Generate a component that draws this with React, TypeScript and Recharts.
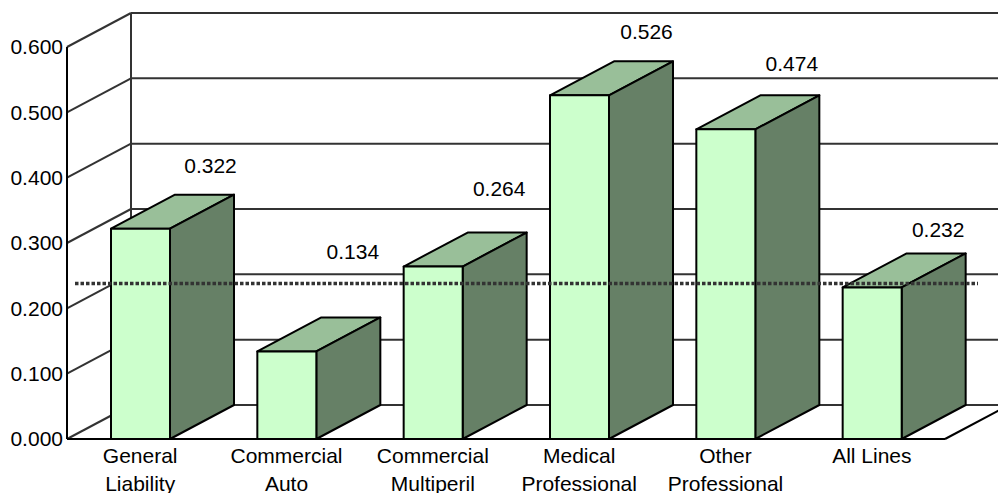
import { BarChart, Bar, XAxis, YAxis, CartesianGrid, ReferenceLine, LabelList } from "recharts";

const categories = [
  "General\nLiability",
  "Commercial\nAuto",
  "Commercial\nMultiperil",
  "Medical\nProfessional",
  "Other\nProfessional",
  "All Lines",
];
const values = [0.322, 0.134, 0.264, 0.526, 0.474, 0.232];
const yTicks = [0, 0.1, 0.2, 0.3, 0.4, 0.5, 0.6];
const allLinesAverage = 0.232;

const data = categories.map((name, i) => ({ name, value: values[i] }));

// depth of the fake 3d box
const DX = 64;
const DY = 34;
const PLOT_TOP = 47;
const PLOT_H = 392;
const FONT = "'Liberation Sans', Arial, sans-serif";
const FONT_SIZE = 21;
const WALL = "#333333";

// the data labels float at different spots in the original
const labelLift = [63, 100, 78, 64, 66, 58];
const labelShift = [70, 66, 66, 67, 66, 66];

function Box3D({ x, y, width, height }: any) {
  const r = x + width;
  const b = y + height;
  return (
    <g stroke="#000" strokeWidth={2} strokeLinejoin="round">
      <path d={`M${x},${y}L${x + DX},${y - DY}L${r + DX},${y - DY}L${r},${y}Z`} fill="#99BF99" />
      <path d={`M${r},${y}L${r + DX},${y - DY}L${r + DX},${b - DY}L${r},${b}Z`} fill="#668066" />
      <rect x={x} y={y} width={width} height={height} fill="#CCFFCC" />
    </g>
  );
}

function WallLine({ x1, y1, x2 }: any) {
  const isFloor = y1 >= PLOT_TOP + PLOT_H - 1;
  return (
    <g stroke={WALL} strokeWidth={2} fill="none">
      <line x1={x1} y1={y1} x2={x1 + DX} y2={y1 - DY} />
      <line x1={x1 + DX} y1={y1 - DY} x2={x2 + DX} y2={y1 - DY} />
      {isFloor && <line x1={x2} y1={y1} x2={x2 + DX} y2={y1 - DY} stroke="#000" />}
      {y1 <= PLOT_TOP + 1 && <line x1={x1 + DX} y1={y1 - DY} x2={x1 + DX} y2={y1 - DY + PLOT_H} />}
    </g>
  );
}

function CategoryTick({ x, y, payload }: any) {
  const lines = String(payload.value).split("\n");
  return (
    <text x={x} y={y} textAnchor="middle" fontFamily={FONT} fontSize={FONT_SIZE} fill="#000">
      {lines.map((t, i) => (
        <tspan key={t} x={x} y={y + 24 + i * 28}>
          {t}
        </tspan>
      ))}
    </text>
  );
}

function ValueLabel({ x, y, width, value, index }: any) {
  return (
    <text
      x={x + width / 2 + labelShift[index]}
      y={y - labelLift[index] + 7.5}
      textAnchor="middle"
      fontFamily={FONT}
      fontSize={FONT_SIZE}
      fill="#000"
    >
      {Number(value).toFixed(3)}
    </text>
  );
}

function AverageLine({ x1, y1, x2 }: any) {
  return (
    <line
      x1={x1 + 8}
      y1={y1 - 4}
      x2={x2 + 33}
      y2={y1 - 4}
      stroke="#333333"
      strokeWidth={3.5}
      strokeDasharray="3.5 2"
    />
  );
}

export default function App() {
  return (
    <div style={{ position: "absolute", left: 0, top: 0, background: "#fff" }}>
      <BarChart
        width={998}
        height={493}
        data={data}
        margin={{ top: PLOT_TOP, right: 53, left: 0, bottom: 0 }}
      >
        <CartesianGrid horizontal={(p: any) => <WallLine key={p.key} {...p} />} vertical={false} />
        <XAxis
          dataKey="name"
          height={54}
          interval={0}
          tick={<CategoryTick />}
          tickLine={false}
          tickSize={0}
          tickMargin={0}
          axisLine={{ stroke: "#000", strokeWidth: 2 }}
        />
        <YAxis
          width={67}
          domain={[0, 0.6]}
          ticks={yTicks}
          tickFormatter={(v: number) => v.toFixed(3)}
          tick={{ fontFamily: FONT, fontSize: FONT_SIZE, fill: "#000" }}
          tickLine={false}
          tickSize={0}
          tickMargin={4}
          axisLine={{ stroke: "#000", strokeWidth: 2 }}
        />
        <Bar dataKey="value" barSize={59} shape={<Box3D />} isAnimationActive={false}>
          <LabelList dataKey="value" content={<ValueLabel />} />
        </Bar>
        <ReferenceLine y={allLinesAverage} ifOverflow="visible" shape={<AverageLine />} />
      </BarChart>
    </div>
  );
}
